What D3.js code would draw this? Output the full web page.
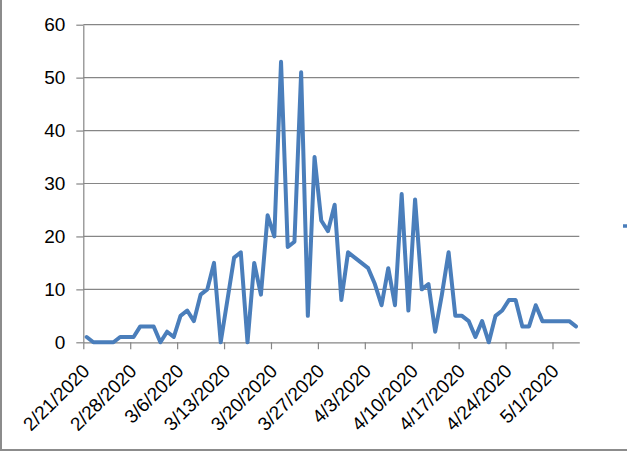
<!DOCTYPE html>
<html><head><meta charset="utf-8">
<script src="https://cdn.jsdelivr.net/npm/d3@7"></script>
<style>html,body{margin:0;padding:0;background:#fff;}svg{display:block;}</style>
</head><body>
<svg id="c" width="627" height="452"></svg>
<script>
const startDate = "2020-02-21";
const values = [1,0,0,0,0,1,1,1,3,3,3,0,2,1,5,6,4,9,10,15,0,8,16,17,0,15,9,24,20,53,18,19,51,5,35,23,21,26,8,17,16,15,14,11,7,14,7,28,6,27,10,11,2,9,17,5,5,4,1,4,0,5,6,8,8,3,3,7,4,4,4,4,4,3];
const yTicks = [0,10,20,30,40,50,60];
const xTickLabels = ["2/21/2020","2/28/2020","3/6/2020","3/13/2020","3/20/2020","3/27/2020","4/3/2020","4/10/2020","4/17/2020","4/24/2020","5/1/2020"];

const svg = d3.select("#c");
const parse = d3.utcParse("%Y-%m-%d");
const t0 = parse(startDate);
const day = 86400000;
const data = values.map((v,i)=>({d:new Date(t0.getTime()+i*day), v}));
const tEnd = new Date(t0.getTime()+values.length*day);

const L=83.3, R=579.3, T=24.7, B=342.3;
const x = d3.scaleUtc().domain([t0,tEnd]).range([L,R]);
const y = d3.scaleLinear().domain([0,60]).range([B,T]);
const font = "'Liberation Sans', Arial, sans-serif";

// frame
svg.append("path").attr("d",`M1,0 V450 H627`).attr("fill","none").attr("stroke","#8c8c8c").attr("stroke-width",2);

// gridlines
svg.append("g").selectAll("line").data(yTicks.filter(d=>d>0)).join("line")
  .attr("x1",L).attr("x2",R).attr("y1",d=>y(d)).attr("y2",d=>y(d))
  .attr("stroke","#868686").attr("stroke-width",1.2);

// y axis
const ya = svg.append("g").attr("transform",`translate(${L},0)`)
  .call(d3.axisLeft(y).tickValues(yTicks).tickSize(7).tickPadding(11).tickSizeOuter(0));
ya.select(".domain").attr("stroke","#868686").attr("stroke-width",1.2);
ya.selectAll(".tick line").attr("stroke","#868686").attr("stroke-width",1.2);
ya.selectAll("text").attr("font-family",font).attr("font-size",19).attr("fill","#000");

// x axis
const tickDates = xTickLabels.map(s=>{const [m,dd,yy]=s.split("/").map(Number);return new Date(Date.UTC(yy,m-1,dd));});
const xa = svg.append("g").attr("transform",`translate(0,${B})`)
  .call(d3.axisBottom(x).tickValues(tickDates).tickSize(7).tickSizeOuter(0).tickFormat((d,i)=>xTickLabels[i]));
xa.select(".domain").attr("stroke","#868686").attr("stroke-width",1.2);
xa.selectAll(".tick line").attr("stroke","#868686").attr("stroke-width",1.2);
xa.selectAll("text").attr("font-family",font).attr("font-size",19).attr("fill","#000")
  .attr("text-anchor","end").attr("dy",0).attr("y",0)
  .attr("transform","translate(7,30) rotate(-45)");

// line
const line = d3.line().x(d=>x(new Date(d.d.getTime()+day/2))).y(d=>y(d.v));
svg.append("path").datum(data).attr("d",line).attr("fill","none")
  .attr("stroke","#4a7ebb").attr("stroke-width",4).attr("stroke-linejoin","round").attr("stroke-linecap","round");

// truncated legend swatch
svg.append("line").attr("x1",623).attr("x2",630).attr("y1",226).attr("y2",226)
  .attr("stroke","#4a7ebb").attr("stroke-width",3.5);
</script>
</body></html>
